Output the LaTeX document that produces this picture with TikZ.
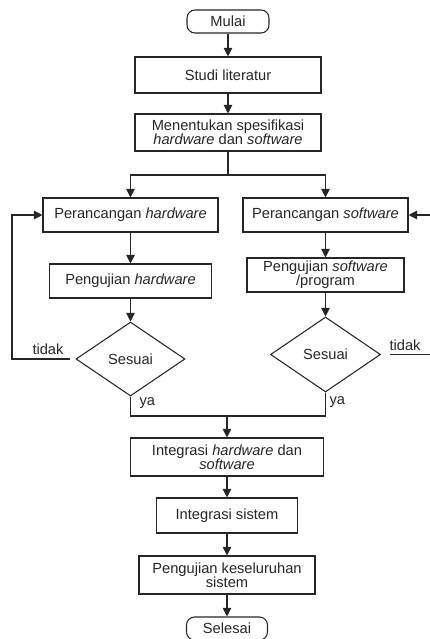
\documentclass[tikz,border=0pt]{standalone}
\usepackage{fontspec}
\setmainfont{Liberation Sans}
\usetikzlibrary{
  arrows.meta, positioning, shapes.geometric, calc
}
\definecolor{ink}{HTML}{262626}

\tikzset{
  box/.style={draw=ink, line width=0.8pt, inner sep=1pt, align=center,
    text=ink},
  term/.style={box, rounded corners=6pt},
  cond/.style={draw=ink, line width=0.8pt, diamond, aspect=1.47,
    inner sep=0pt, text=ink},
  lbl/.style={text=ink, inner sep=0pt},
  arr/.style={-{Triangle[length=6.5pt,width=6.5pt]}},
}

\begin{document}
\begin{tikzpicture}[x=0.75pt, y=-0.75pt, line width=0.8pt, draw=ink,
    font=\fontsize{11}{10.5}\selectfont]
  \useasboundingbox (0,0) rectangle (429,639);
  % Main column
  \node[term, minimum width=61.5pt, minimum height=17.25pt] (start)
    at (228,21.5) {Mulai};
  \node[box, minimum width=139.5pt, minimum height=27pt] (studi)
    at (228,75) {Studi literatur};
  \node[box, minimum width=139.5pt, minimum height=27.75pt] (spec)
    at (228,132.5) {Menentukan spesifikasi\\\textit{hardware} dan \textit{software}};
  % Hardware branch
  \node[box, minimum width=131.25pt, minimum height=25.5pt] (phw)
    at (130.5,215) {Perancangan \textit{hardware}};
  \node[box, minimum width=121.5pt, minimum height=25.5pt] (uhw)
    at (130.5,281) {Pengujian \textit{hardware}};
  \node[cond, minimum width=81.75pt, minimum height=55.5pt] (dhw)
    at (130.5,359) {Sesuai};
  % Software branch
  \node[box, minimum width=123.75pt, minimum height=25.5pt] (psw)
    at (325.5,215) {Perancangan \textit{software}};
  \node[box, minimum width=117.75pt, minimum height=25.5pt] (usw)
    at (325.5,275) {Pengujian \textit{software}\\/program};
  \node[cond, minimum width=82.5pt, minimum height=56.25pt] (dsw)
    at (325.5,354.5) {Sesuai};
  % Integration
  \node[box, minimum width=144.75pt, minimum height=28.5pt] (ihs)
    at (227,457) {Integrasi \textit{hardware} dan\\\textit{software}};
  \node[box, minimum width=105.75pt, minimum height=26.25pt] (isys)
    at (227,515.5) {Integrasi sistem};
  \node[box, minimum width=132pt, minimum height=28.5pt] (utot)
    at (227,575) {Pengujian keseluruhan\\sistem};
  \node[term, minimum width=60.75pt, minimum height=17.25pt] (stop)
    at (227,628.5) {Selesai};
  % Helper points
  \coordinate (split) at (228,175);
  \coordinate (join) at (227,416);
  \coordinate (hwx) at (12,0);
  \coordinate (swx) at (433,0);
  % Connectors
  \draw[arr] (start) -- (studi);
  \draw[arr] (studi) -- (spec);
  \draw (spec) -- (split);
  \draw[arr] (split) -| (phw);
  \draw[arr] (split) -| (psw);
  \draw[arr] (phw) -- (uhw);
  \draw[arr] (uhw) -- (dhw);
  \draw[arr] (psw) -- (usw);
  \draw[arr] (usw) -- (dsw);
  \draw[arr, shorten <=4pt] (dhw.west) -- (dhw.west -| hwx) |- (phw.west);
  \draw[arr, shorten <=7pt] (dsw.east) -- (dsw.east -| swx) |- (psw.east);
  \draw (dhw.south) |- (join);
  \draw (dsw.south) |- (join);
  \draw[arr] (join) -- (ihs);
  \draw[arr] (ihs) -- (isys);
  \draw[arr] (isys) -- (utot);
  \draw[arr] (utot) -- (stop);
  % Labels
  \node[lbl, anchor=base] (tdkhw) at (48,354) {tidak};
  \node[lbl, anchor=base] (tdksw) at (405,350) {tidak};
  \node[lbl, anchor=base west] (yahw) at (139,405) {ya};
  \node[lbl, anchor=base west] (yasw) at (329,404) {ya};
\end{tikzpicture}
\end{document}
